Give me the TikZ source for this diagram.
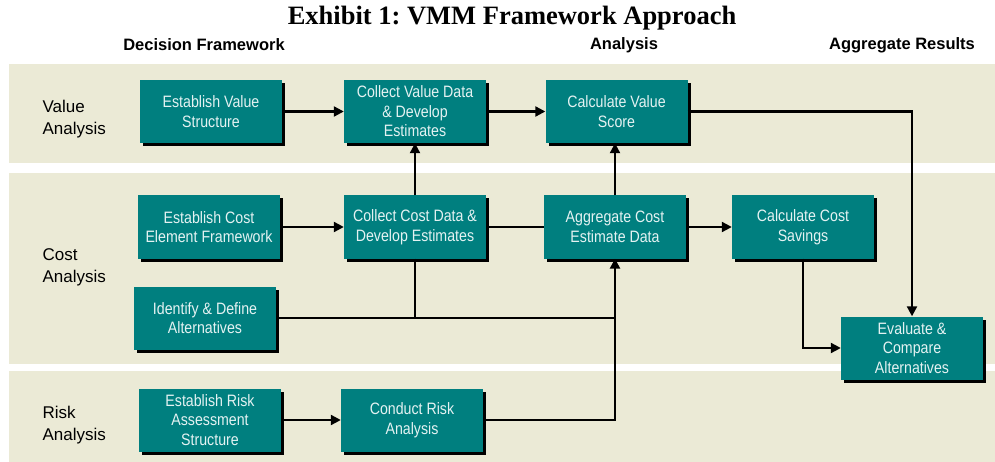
\documentclass[tikz,border=0pt]{standalone}
\usepackage{fontspec}
\setmainfont{Liberation Serif}
\setsansfont{Liberation Sans}
\newfontfamily\boxfont{Liberation Sans}[FakeStretch=0.86]
\usetikzlibrary{arrows.meta,shadows}
\definecolor{bandcream}{HTML}{EBEAD6}
\definecolor{tealbox}{HTML}{007F7F}
\definecolor{boxtext}{HTML}{E4F2F2}
\frenchspacing
\tikzset{
  stepbox/.style={fill=tealbox, draw=none, text=boxtext, align=center,
    minimum width=142pt, minimum height=63pt, inner sep=2pt,
    font=\boxfont\fontsize{16.5}{19.5}\selectfont,
    general shadow={fill=black, shadow xshift=3pt, shadow yshift=-3pt}},
  band/.style={fill=bandcream, draw=none},
  rowlabel/.style={anchor=west, align=left, font=\sffamily\fontsize{17}{22}\selectfont},
  colhead/.style={font=\sffamily\bfseries\fontsize{16.5}{20}\selectfont},
  link/.style={line width=2.2pt},
  arr/.style={link, -{Triangle[length=10pt,width=10pt]}}
}
\begin{document}
\begin{tikzpicture}[x=1pt,y=-1pt]
\useasboundingbox (0,0) rectangle (995,462);
\fill[white] (0,0) rectangle (995,462);

% background bands for the three analysis rows
\fill[band] (9,64) rectangle (995,163);
\fill[band] (9,173) rectangle (995,364);
\fill[band] (9,371) rectangle (995,462);

% title and column headings
\node[font=\bfseries\fontsize{26.5}{30}\selectfont] (title) at (512,18) {Exhibit 1: VMM Framework Approach};
\node[colhead] (hdec) at (204,45) {Decision Framework};
\node[colhead] (hana) at (624,45) {Analysis};
\node[colhead] (hagg) at (902,45) {Aggregate Results};

% row labels
\node[rowlabel] (lval) at (39,119) {Value\\Analysis};
\node[rowlabel] (lcost) at (39,267) {Cost\\Analysis};
\node[rowlabel] (lrisk) at (39,425) {Risk\\Analysis};

% process steps
\node[stepbox] (ev) at (211,111.5) {Establish Value\\Structure};
\node[stepbox] (cv) at (415,111.5) {Collect Value Data\\\& Develop\\Estimates};
\node[stepbox] (calcv) at (616.5,111.5) {Calculate Value\\Score};
\node[stepbox] (ec) at (209,227) {Establish Cost\\Element Framework};
\node[stepbox] (cc) at (415,227) {Collect Cost Data \&\\Develop Estimates};
\node[stepbox] (ag) at (615,227) {Aggregate Cost\\Estimate Data};
\node[stepbox] (cs) at (803,227) {Calculate Cost\\Savings};
\node[stepbox] (id) at (205,318) {Identify \& Define\\Alternatives};
\node[stepbox] (eva) at (912,348) {Evaluate \&\\Compare\\Alternatives};
\node[stepbox] (er) at (210,420) {Establish Risk\\Assessment\\Structure};
\node[stepbox] (cr) at (412,420) {Conduct Risk\\Analysis};

% value row flow
\draw[arr] (ev) -- (cv);
\draw[arr] (cv) -- (calcv);
\draw[arr] (calcv.east) -| (eva.north);

% cost row flow
\draw[arr] (ec) -- (cc);
\draw[link] (cc) -- (ag);
\draw[arr] (ag) -- (cs);
\draw[arr] (cc.north) -- (cv.south);
\draw[arr] (ag.north) -- (ag.north |- calcv.south);
\draw[arr] (cs.south) |- (eva.west);

% alternatives feed both cost estimating steps
\coordinate (junc) at (cc.south |- id.east);
\draw[link] (id.east) -- (ag.south |- id.east);
\draw[link] (cc.south) -- (junc);

% risk row flow, feeding the cost aggregation
\draw[arr] (er) -- (cr);
\draw[arr, line width=2.8pt] (cr.east) -| (ag.south);
\end{tikzpicture}
\end{document}
